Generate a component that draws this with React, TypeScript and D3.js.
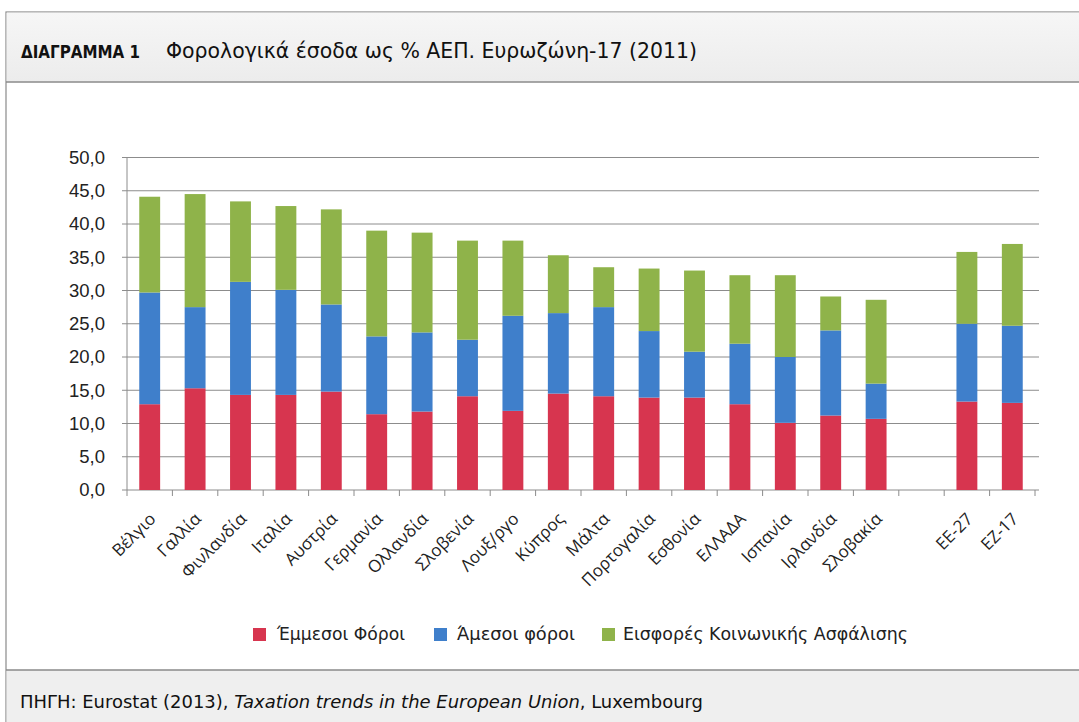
import React from "react";
import * as d3 from "d3";

const categories = ["Βέλγιο","Γαλλία","Φινλανδία","Ιταλία","Αυστρία","Γερμανία","Ολλανδία","Σλοβενία","Λουξ/ργο","Κύπρος","Μάλτα","Πορτογαλία","Εσθονία","ΕΛΛΑΔΑ","Ισπανία","Ιρλανδία","Σλοβακία","","ΕΕ-27","ΕΖ-17"];
const indirectTaxes = [12.9,15.3,14.3,14.3,14.8,11.4,11.8,14.1,11.9,14.5,14.1,13.9,13.9,12.9,10.1,11.2,10.7,0,13.3,13.1];
const directTaxes = [16.8,12.2,17.0,15.8,13.1,11.7,11.9,8.5,14.3,12.1,13.4,10.0,6.9,9.1,9.9,12.8,5.3,0,11.7,11.6];
const socialContributions = [14.4,17.0,12.1,12.6,14.3,15.9,15.0,14.9,11.3,8.7,6.0,9.4,12.2,10.3,12.3,5.1,12.6,0,10.8,12.3];
const seriesNames = ["Έμμεσοι Φόροι","Άμεσοι φόροι","Εισφορές Κοινωνικής Ασφάλισης"];
const seriesColors = ["#d7354f","#3f7fcb","#8fb34a"];
const yTicks = [0,5,10,15,20,25,30,35,40,45,50];

export default function App() {
  const x0 = 127, x1 = 1035, yBottom = 490, yTop = 157.5;
  const idx = categories.map((_, i) => String(i));
  const x = d3.scaleBand().domain(idx).range([x0, x1]).paddingInner(0.54).paddingOuter(0.27);
  const step = x.step();
  const y = d3.scaleLinear().domain([0, 50]).range([yBottom, yTop]);
  const rows = categories.map((c, i) => ({ key: String(i), a: indirectTaxes[i], b: directTaxes[i], c: socialContributions[i] }));
  const stack = d3.stack<any>().keys(["a", "b", "c"])(rows);
  const fmt = (v: number) => v.toFixed(1).replace(".", ",");
  const font = "'DejaVu Sans Condensed', 'DejaVu Sans', sans-serif";
  const legendItems = [
    { sq: 253, tx: 277, tl: 128 },
    { sq: 434, tx: 457, tl: 118 },
    { sq: 602, tx: 623, tl: 285 },
  ];
  return (
    <div style={{ position: "absolute", left: 0, top: 0 }}>
      <svg width={1079} height={722} style={{ display: "block", background: "#fff" }}>
        <defs>
          <linearGradient id="bar" x1="0" y1="0" x2="0" y2="1">
            <stop offset="0" stopColor="#f6f6f6" />
            <stop offset="1" stopColor="#ececec" />
          </linearGradient>
        </defs>
        {/* frame */}
        <rect x={6} y={12} width={1090} height={720} fill="#fff" stroke="#8a8a8a" strokeWidth={1.2} />
        <rect x={6.6} y={12.6} width={1090} height={69} fill="url(#bar)" />
        <line x1={6} x2={1079} y1={82} y2={82} stroke="#8a8a8a" strokeWidth={1.5} />
        <rect x={6.6} y={670} width={1090} height={60} fill="#efefef" />
        <line x1={6} x2={1079} y1={670} y2={670} stroke="#8a8a8a" strokeWidth={1.5} />
        <text x={21} y={58} fontFamily={font} fontWeight="bold" fontSize={17} fill="#111" textLength={119} lengthAdjust="spacingAndGlyphs">ΔΙΑΓΡΑΜΜΑ 1</text>
        <text x={166} y={58} fontFamily={font} fontSize={22} fill="#111" textLength={531} lengthAdjust="spacingAndGlyphs">Φορολογικά έσοδα ως % ΑΕΠ. Ευρωζώνη-17 (2011)</text>

        {/* grid */}
        {yTicks.map(t => (
          <g key={t}>
            <line x1={x0} x2={x1 + 4} y1={y(t)} y2={y(t)} stroke="#8c8c8c" strokeWidth={1} />
            <line x1={x0 - 5} x2={x0} y1={y(t)} y2={y(t)} stroke="#8c8c8c" strokeWidth={1} />
            <text x={105} y={y(t)} dy="0.35em" textAnchor="end" fontFamily="'Liberation Sans', Arial, sans-serif" fontSize={18.5} fill="#222">{fmt(t)}</text>
          </g>
        ))}
        <line x1={x0} x2={x0} y1={yTop} y2={yBottom} stroke="#8c8c8c" strokeWidth={1} />
        {categories.map((_, i) => (
          <line key={i} x1={x0 + i * step} x2={x0 + i * step} y1={yBottom} y2={yBottom + 6} stroke="#8c8c8c" strokeWidth={1} />
        ))}
        <line x1={x1} x2={x1} y1={yBottom} y2={yBottom + 6} stroke="#8c8c8c" strokeWidth={1} />

        {/* bars */}
        {stack.map((s, si) => (
          <g key={si} fill={seriesColors[si]}>
            {s.map((d: any, i: number) => (
              d[1] - d[0] > 0 ? (
                <rect key={i} x={x(String(i))} width={x.bandwidth()} y={y(d[1])} height={y(d[0]) - y(d[1])} />
              ) : null
            ))}
          </g>
        ))}

        {/* x labels */}
        {categories.map((c, i) => {
          const cx = (x(String(i)) as number) + x.bandwidth() / 2;
          return (
            <text key={i} transform={`translate(${cx + 7},${520}) rotate(-45)`} textAnchor="end" fontFamily="'Open Sans', sans-serif" fontSize={17} fill="#222">{c}</text>
          );
        })}

        {/* legend */}
        {seriesNames.map((n, i) => (
          <g key={n}>
            <rect x={legendItems[i].sq} y={628} width={13} height={13} fill={seriesColors[i]} />
            <text x={legendItems[i].tx} y={640} fontFamily={font} fontSize={17} fill="#222" textLength={legendItems[i].tl} lengthAdjust="spacingAndGlyphs">{n}</text>
          </g>
        ))}

        {/* footer */}
        <text x={20} y={708} fontFamily={font} fontSize={17} fill="#111" textLength={683} lengthAdjust="spacingAndGlyphs">
          ΠΗΓΗ: Eurostat (2013), <tspan fontStyle="italic">Taxation trends in the European Union</tspan>, Luxembourg
        </text>
      </svg>
    </div>
  );
}
